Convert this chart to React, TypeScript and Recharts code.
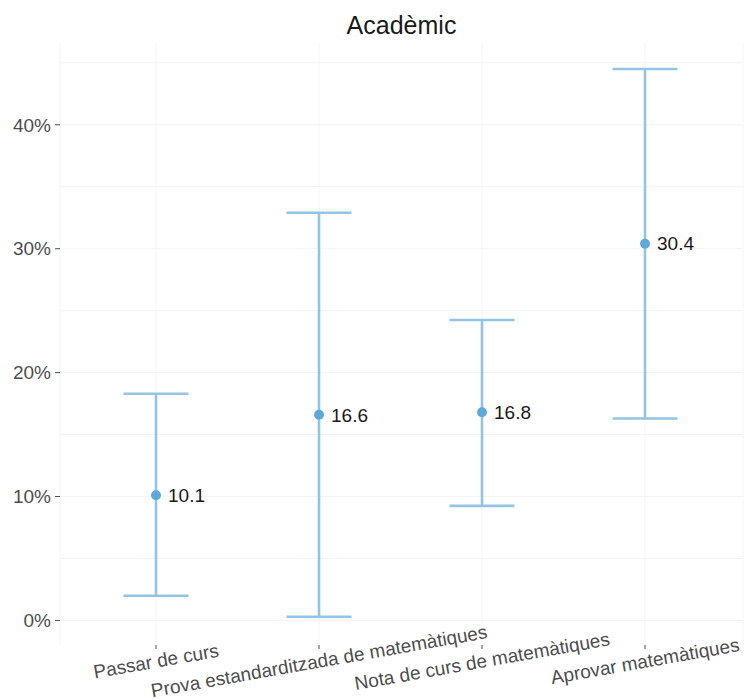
import React from "react";
import { ComposedChart, Line, ErrorBar, XAxis, YAxis, CartesianGrid, LabelList } from "recharts";

const categories = [
  "Passar de curs",
  "Prova estandarditzada de matemàtiques",
  "Nota de curs de matemàtiques",
  "Aprovar matemàtiques",
];
const estimate = [10.1, 16.6, 16.8, 30.4];
const lower = [2.0, 0.3, 9.25, 16.3];
const upper = [18.3, 32.9, 24.25, 44.5];
const yTicks = [0, 10, 20, 30, 40];
const gridValues = [0, 5, 10, 15, 20, 25, 30, 35, 40, 45];

const data = categories.map((name, i) => ({
  name,
  value: estimate[i],
  err: [estimate[i] - lower[i], upper[i] - estimate[i]],
}));

const FONT = "'Liberation Sans', Arial, Helvetica, sans-serif";

const AngledTick = ({ x, y, payload }: any) => (
  <g transform={`translate(${x},${y})`}>
    <text
      x={0}
      y={10}
      dy="0.35em"
      textAnchor="middle"
      transform="rotate(-10, 0, 10)"
      fill="#4d4d4d"
      fontSize={19}
      fontFamily={FONT}
    >
      {payload.value}
    </text>
  </g>
);

export default function App() {
  return (
    <div style={{ position: "absolute", left: 0, top: 0, width: 744, height: 699, fontFamily: FONT, background: "#fff" }}>
      <div
        style={{
          position: "absolute",
          left: 60,
          width: 683,
          top: 9,
          textAlign: "center",
          fontSize: 25,
          lineHeight: "32px",
          color: "#1a1a1a",
        }}
      >
        Acadèmic
      </div>
      <ComposedChart width={744} height={699} data={data} margin={{ top: 43, right: 1, bottom: 0, left: 0 }}>
        <CartesianGrid stroke="#f4f4f4" horizontalValues={gridValues} />
        <XAxis
          dataKey="name"
          type="category"
          padding={{ left: 96, right: 98 }}
          height={54}
          axisLine={false}
          tickLine={{ stroke: "#4d4d4d" }}
          tickSize={4}
          tick={<AngledTick />}
          interval={0}
        />
        <YAxis
          type="number"
          domain={[-1.98, 46.6]}
          ticks={yTicks}
          allowDataOverflow
          width={60}
          axisLine={false}
          tickLine={{ stroke: "#4d4d4d" }}
          tickSize={5}
          tickMargin={4}
          tickFormatter={(v: number) => `${v}%`}
          tick={{ fill: "#4d4d4d", fontSize: 19, fontFamily: FONT }}
        />
        <Line
          dataKey="value"
          stroke="none"
          isAnimationActive={false}
          dot={{ r: 5, fill: "#5ea9da", stroke: "#5ea9da", strokeWidth: 0 }}
          activeDot={false}
        >
          <ErrorBar dataKey="err" direction="y" width={32.5} stroke="#92c5e3" strokeWidth={2.6} />
          <LabelList
            dataKey="value"
            position="right"
            offset={12}
            fill="#1a1a1a"
            fontSize={19}
            fontFamily={FONT}
            formatter={(v: any) => Number(v).toFixed(1)}
          />
        </Line>
      </ComposedChart>
    </div>
  );
}
